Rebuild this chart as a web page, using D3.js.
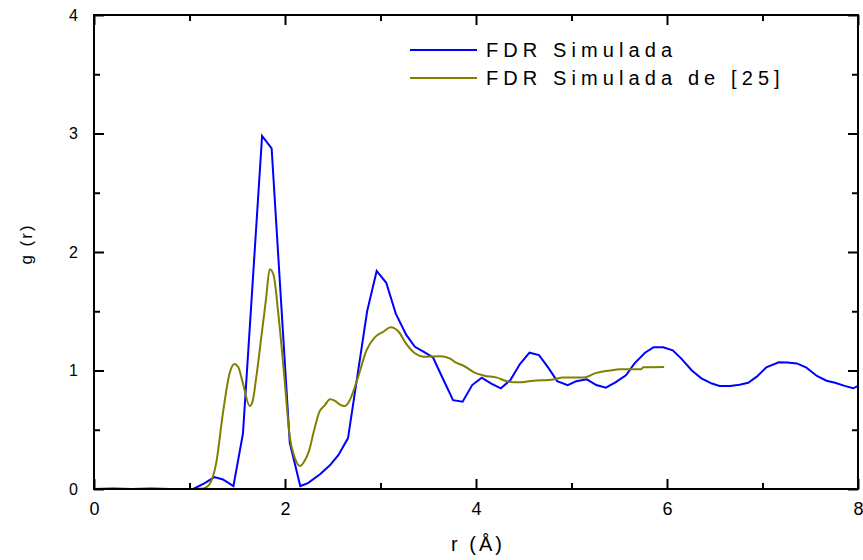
<!DOCTYPE html>
<html lang="es">
<head>
<meta charset="utf-8">
<title>g(r)</title>
<script src="https://cdn.jsdelivr.net/npm/d3@7"></script>
<style>
  body { margin: 0; background: #fff; }
  text { font-family: "Liberation Sans", Arial, sans-serif; fill: #000; }
</style>
</head>
<body>
<div id="chart"></div>
<script>
// blue curve: FDR Simulada
var blueR = [0, 0.2, 0.4, 0.6, 0.8, 0.94, 1.04, 1.16, 1.26, 1.35, 1.46, 1.56, 1.76, 1.86, 2.05, 2.16, 2.24,
  2.37, 2.47, 2.56, 2.66, 2.86, 2.96, 3.06, 3.16, 3.27, 3.36, 3.45, 3.55, 3.66, 3.76, 3.86, 3.96, 4.06,
  4.16, 4.26, 4.36, 4.46, 4.56, 4.66, 4.76, 4.85, 4.96, 5.05, 5.16, 5.26, 5.36, 5.46, 5.57, 5.66, 5.77,
  5.86, 5.96, 6.06, 6.15, 6.26, 6.36, 6.47, 6.55, 6.66, 6.76, 6.85, 6.94, 7.04, 7.17, 7.26, 7.36, 7.46,
  7.57, 7.67, 7.76, 7.86, 7.95, 8.0];
var blueG = [0, 0.005, 0, 0.005, 0, 0, 0, 0.05, 0.10, 0.08, 0.025, 0.47, 2.98, 2.875, 0.39, 0.025, 0.05,
  0.127, 0.2, 0.287, 0.43, 1.50, 1.84, 1.74, 1.48, 1.30, 1.20, 1.16, 1.11, 0.92, 0.75, 0.737, 0.877, 0.94,
  0.89, 0.85, 0.92, 1.055, 1.15, 1.13, 1.02, 0.91, 0.877, 0.91, 0.925, 0.877, 0.855, 0.90, 0.96, 1.06, 1.15,
  1.196, 1.196, 1.17, 1.10, 1.00, 0.934, 0.89, 0.87, 0.87, 0.88, 0.897, 0.948, 1.027, 1.069, 1.067, 1.06, 1.024,
  0.954, 0.914, 0.897, 0.87, 0.85, 0.87];

// olive curve: FDR Simulada de [25]
var oliveR = [0.81, 1.0, 1.145, 1.20, 1.28, 1.35, 1.42, 1.47, 1.51, 1.56, 1.63, 1.66, 1.70, 1.756, 1.80,
  1.84, 1.88, 1.93, 1.99, 2.05, 2.10, 2.157, 2.20, 2.255, 2.30, 2.36, 2.42, 2.47, 2.52, 2.58, 2.62, 2.67,
  2.75, 2.855, 2.94, 3.03, 3.107, 3.19, 3.27, 3.36, 3.45, 3.62, 3.73, 3.78, 3.87, 3.99, 4.09, 4.22, 4.32,
  4.44, 4.60, 4.81, 4.91, 5.12, 5.26, 5.40, 5.51, 5.73, 5.75, 5.97];
var oliveG = [0, 0, 0.005, 0.03, 0.22, 0.64, 0.976, 1.055, 1.03, 0.89, 0.70, 0.737, 0.948, 1.31, 1.595,
  1.854, 1.806, 1.48, 0.976, 0.44, 0.27, 0.194, 0.23, 0.33, 0.48, 0.65, 0.71, 0.757, 0.745, 0.71, 0.70, 0.737,
  0.906, 1.173, 1.28, 1.327, 1.364, 1.327, 1.224, 1.145, 1.117, 1.12, 1.10, 1.07, 1.04, 0.98, 0.956, 0.94, 0.91,
  0.90, 0.914, 0.925, 0.94, 0.94, 0.98, 1.00, 1.01, 1.01, 1.027, 1.03];

var xTickLabels = [0, 2, 4, 6, 8];
var yTickLabels = [0, 1, 2, 3, 4];
var seriesNames = ["FDR Simulada", "FDR Simulada de [25]"];

var w = 863, h = 560;
var pLeft = 94, pRight = 858, pTop = 15, pBottom = 489;

var svg = d3.select("#chart").append("svg")
  .attr("width", w).attr("height", h);

var x = d3.scaleLinear().domain([0, 8]).range([pLeft, pRight]);
var y = d3.scaleLinear().domain([0, 4]).range([pBottom, pTop]);

// clip so lines stop at the frame
svg.append("clipPath").attr("id", "plot")
  .append("rect").attr("x", pLeft).attr("y", pTop)
  .attr("width", pRight - pLeft).attr("height", pBottom - pTop);

var blueData = blueR.map(function(r, i) { return [r, blueG[i]]; });
var oliveData = oliveR.map(function(r, i) { return [r, oliveG[i]]; });

var line = d3.line().x(function(d) { return x(d[0]); }).y(function(d) { return y(d[1]); });
var smooth = d3.line().curve(d3.curveMonotoneX)
  .x(function(d) { return x(d[0]); }).y(function(d) { return y(d[1]); });

var g = svg.append("g").attr("clip-path", "url(#plot)");
g.append("path").datum(blueData).attr("d", line)
  .attr("fill", "none").attr("stroke", "#0000ff").attr("stroke-width", 2);
g.append("path").datum(oliveData).attr("d", smooth)
  .attr("fill", "none").attr("stroke", "#808000").attr("stroke-width", 2);

// ticks: inward on all four sides, major + minor
function addAxis(axis, transform, major, minor) {
  var a = svg.append("g").attr("transform", transform);
  a.call(axis.tickValues(minor).tickSize(-6).tickFormat(""));
  a.selectAll(".domain").remove();
  var b = svg.append("g").attr("transform", transform);
  b.call(axis.tickValues(major).tickSize(-10).tickFormat(d3.format("d")));
  b.selectAll(".domain").remove();
  [a, b].forEach(function(s) {
    s.selectAll("line").attr("stroke", "#000").attr("stroke-width", 2);
  });
  return b;
}

var xb = addAxis(d3.axisBottom(x), "translate(0," + pBottom + ")", xTickLabels, [1, 3, 5, 7]);
xb.selectAll("text").attr("y", 13).attr("dy", "0.71em").style("font-size", "18px");
var xt = addAxis(d3.axisTop(x), "translate(0," + pTop + ")", xTickLabels, [1, 3, 5, 7]);
xt.selectAll("text").remove();

var yl = addAxis(d3.axisLeft(y), "translate(" + pLeft + ",0)", yTickLabels, [0.5, 1.5, 2.5, 3.5]);
yl.selectAll("text").attr("x", -16).style("font-size", "16px");
var yr = addAxis(d3.axisRight(y), "translate(" + pRight + ",0)", yTickLabels, [0.5, 1.5, 2.5, 3.5]);
yr.selectAll("text").remove();

// frame
svg.append("rect").attr("x", pLeft).attr("y", pTop)
  .attr("width", pRight - pLeft).attr("height", pBottom - pTop)
  .attr("fill", "none").attr("stroke", "#000").attr("stroke-width", 2);

// axis titles
svg.append("text").attr("x", 478).attr("y", 551)
  .attr("text-anchor", "middle").style("font-size", "20px").style("letter-spacing", "3px")
  .text("r (Å)");
svg.append("text").attr("transform", "translate(32,244) rotate(-90)")
  .attr("text-anchor", "middle").style("font-size", "17px").style("letter-spacing", "2px")
  .text("g (r)");

// legend
var legColors = ["#0000ff", "#808000"];
var leg = svg.append("g");
seriesNames.forEach(function(name, i) {
  var yy = 50 + i * 28;
  leg.append("line").attr("x1", 410).attr("x2", 477).attr("y1", yy).attr("y2", yy)
    .attr("stroke", legColors[i]).attr("stroke-width", 2);
  leg.append("text").attr("x", 486).attr("y", yy + 7)
    .style("font-size", "20px").style("letter-spacing", "5.1px").text(name);
});
</script>
</body>
</html>
